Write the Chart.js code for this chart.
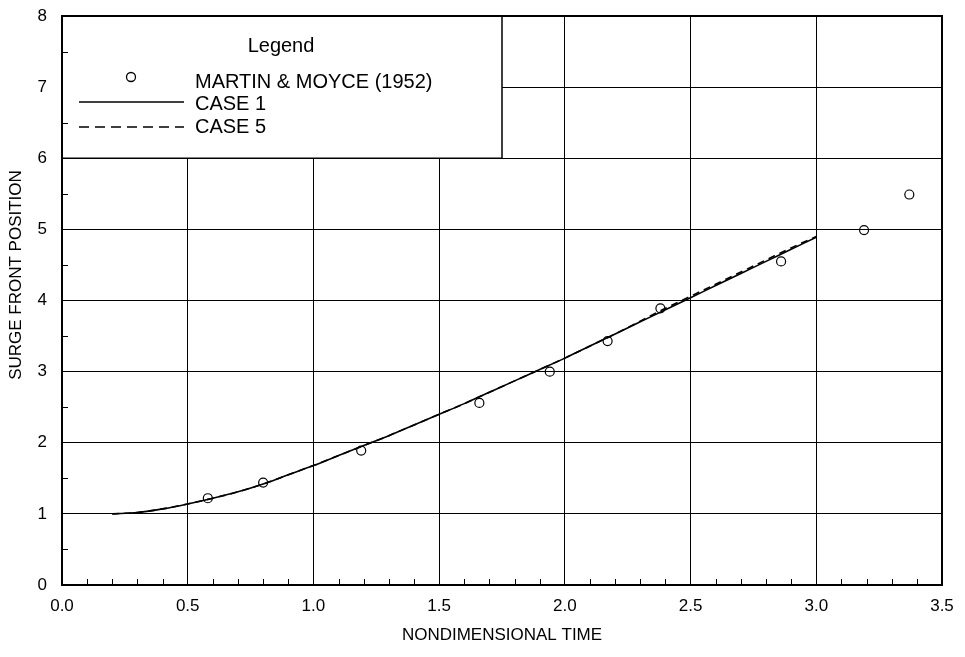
<!DOCTYPE html>
<html>
<head>
<meta charset="utf-8">
<script src="https://cdn.jsdelivr.net/npm/chart.js@4.4.1/dist/chart.umd.min.js"></script>
<style>
  html, body { margin: 0; padding: 0; background: #fff; }
  #wrap { width: 965px; height: 657px; }
</style>
</head>
<body>
<div id="wrap"><canvas id="myChart" width="965" height="657"></canvas></div>
<script>
// Martin & Moyce (1952) measurements
const timeObs = [0.58, 0.80, 1.19, 1.66, 1.94, 2.17, 2.38, 2.86, 3.19, 3.37];
const surgeObs = [1.22, 1.44, 1.89, 2.56, 3.00, 3.43, 3.89, 4.55, 4.99, 5.49];

// computed cases
const timeSim = [0.2, 0.3, 0.4, 0.5, 0.6, 0.7, 0.8, 0.9, 1.0, 1.1, 1.2, 1.3, 1.4, 1.5,
                 1.6, 1.7, 1.8, 1.9, 2.0, 2.1, 2.2, 2.3, 2.4, 2.5, 2.6, 2.7, 2.8, 2.9, 3.0];
const surgeCase1 = [1.00, 1.02, 1.07, 1.14, 1.22, 1.31, 1.42, 1.55, 1.68, 1.82, 1.96, 2.10, 2.25, 2.40,
                    2.55, 2.71, 2.87, 3.03, 3.19, 3.36, 3.53, 3.70, 3.87, 4.04, 4.21, 4.38, 4.55, 4.72, 4.89];
const surgeCase5 = [1.00, 1.02, 1.07, 1.14, 1.22, 1.31, 1.42, 1.55, 1.68, 1.82, 1.96, 2.10, 2.25, 2.40,
                    2.55, 2.71, 2.87, 3.03, 3.19, 3.36, 3.53, 3.71, 3.89, 4.06, 4.23, 4.40, 4.57, 4.74, 4.90];

const legendLabels = ['MARTIN & MOYCE (1952)', 'CASE 1', 'CASE 5'];
const xTitle = 'NONDIMENSIONAL TIME';
const yTitle = 'SURGE FRONT POSITION';

const FONT = '"Liberation Sans", Arial, sans-serif';

function toXY(xs, ys) {
    return xs.map((x, i) => ({x: x, y: ys[i]}));
}

// legend box, minor ticks, frame, y title
const decor = {
    id: 'decor',
    beforeDatasetsDraw(chart) {
        const ctx = chart.ctx;
        const xs = chart.scales.x, ys = chart.scales.y;
        const l = xs.getPixelForValue(0), r = xs.getPixelForValue(1.75);
        const t = ys.getPixelForValue(8), b = ys.getPixelForValue(6);
        ctx.save();
        ctx.fillStyle = '#fff';
        ctx.fillRect(l, t, r - l, b - t);
        ctx.strokeStyle = '#000';
        ctx.lineWidth = 1.5;
        ctx.strokeRect(l, t, r - l, b - t);

        ctx.fillStyle = '#000';
        ctx.font = '20px ' + FONT;
        ctx.textBaseline = 'alphabetic';
        ctx.textAlign = 'center';
        ctx.fillText('Legend', l + 219, t + 36);
        ctx.textAlign = 'left';
        ctx.fillText(legendLabels[0], l + 133, t + 72);
        ctx.fillText(legendLabels[1], l + 133, t + 94);
        ctx.fillText(legendLabels[2], l + 133, t + 117);

        ctx.lineWidth = 1.3;
        ctx.beginPath();
        ctx.arc(l + 69, t + 61, 4.5, 0, Math.PI * 2);
        ctx.stroke();

        ctx.lineWidth = 1.5;
        ctx.beginPath();
        ctx.moveTo(l + 17, t + 86);
        ctx.lineTo(l + 122, t + 86);
        ctx.stroke();
        ctx.setLineDash([10, 6]);
        ctx.beginPath();
        ctx.moveTo(l + 17, t + 111);
        ctx.lineTo(l + 122, t + 111);
        ctx.stroke();
        ctx.restore();
    },
    afterDraw(chart) {
        const ctx = chart.ctx;
        const a = chart.chartArea;
        const xs = chart.scales.x, ys = chart.scales.y;
        ctx.save();
        ctx.strokeStyle = '#000';
        ctx.lineWidth = 1;
        ctx.beginPath();
        for (let i = 1; i < 35; i++) {
            if (i % 5 === 0) continue;
            const px = Math.round(xs.getPixelForValue(i / 10)) + 0.5;
            ctx.moveTo(px, a.bottom);
            ctx.lineTo(px, a.bottom - 6);
        }
        for (let j = 1; j < 16; j += 2) {
            const py = Math.round(ys.getPixelForValue(j / 2)) + 0.5;
            ctx.moveTo(a.left, py);
            ctx.lineTo(a.left + 6, py);
        }
        ctx.stroke();

        ctx.lineWidth = 2;
        ctx.strokeRect(a.left, a.top, a.right - a.left, a.bottom - a.top);

        ctx.fillStyle = '#000';
        ctx.font = '17px ' + FONT;
        ctx.textAlign = 'center';
        ctx.textBaseline = 'middle';
        ctx.translate(16, 275);
        ctx.rotate(-Math.PI / 2);
        ctx.fillText(yTitle, 0, 0);
        ctx.restore();
    }
};

const ctx = document.getElementById('myChart');

const myChart = new Chart(ctx, {
    type: 'scatter',
    data: {
        datasets: [{
            label: legendLabels[0],
            data: toXY(timeObs, surgeObs),
            showLine: false,
            pointStyle: 'circle',
            pointRadius: 4.5,
            pointBorderWidth: 1.2,
            pointBorderColor: '#000',
            pointBackgroundColor: 'rgba(255,255,255,0)',
            order: 1
        }, {
            label: legendLabels[1],
            data: toXY(timeSim, surgeCase1),
            showLine: true,
            borderColor: '#000',
            borderWidth: 1.6,
            pointRadius: 0,
            cubicInterpolationMode: 'monotone',
            order: 3
        }, {
            label: legendLabels[2],
            data: toXY(timeSim, surgeCase5),
            showLine: true,
            borderColor: '#000',
            borderWidth: 1.6,
            borderDash: [7, 5],
            pointRadius: 0,
            cubicInterpolationMode: 'monotone',
            order: 2
        }]
    },
    options: {
        responsive: false,
        animation: false,
        events: [],
        layout: {
            padding: {left: 0, right: 23, top: 16, bottom: 0}
        },
        plugins: {
            legend: {display: false},
            tooltip: {enabled: false}
        },
        scales: {
            x: {
                type: 'linear',
                min: 0,
                max: 3.5,
                afterFit: (s) => { s.height = 72; s.paddingLeft = 0; s.paddingRight = 0; },
                border: {display: false},
                grid: {color: '#000', lineWidth: 1, drawTicks: false},
                ticks: {
                    stepSize: 0.5,
                    padding: 11,
                    color: '#000',
                    font: {family: FONT, size: 17},
                    maxRotation: 0,
                    callback: (v) => v.toFixed(1)
                },
                title: {
                    display: true,
                    text: xTitle,
                    color: '#000',
                    font: {family: FONT, size: 17},
                    padding: {top: 4, bottom: 11}
                }
            },
            y: {
                type: 'linear',
                min: 0,
                max: 8,
                afterFit: (s) => { s.width = 62; s.paddingTop = 0; s.paddingBottom = 0; },
                border: {display: false},
                grid: {color: '#000', lineWidth: 1, drawTicks: false},
                ticks: {
                    stepSize: 1,
                    padding: 15,
                    color: '#000',
                    font: {family: FONT, size: 17}
                }
            }
        }
    },
    plugins: [decor]
});
</script>
</body>
</html>
